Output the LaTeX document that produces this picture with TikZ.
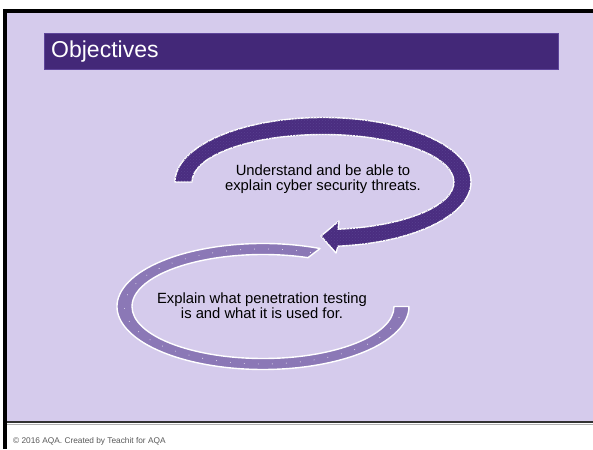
\documentclass[tikz,border=0pt]{standalone}
\usepackage{fontspec}
\setmainfont{Liberation Sans}
\usetikzlibrary{patterns}
\definecolor{panelbg}{HTML}{D5CBEC}
\definecolor{titlebar}{HTML}{432878}
\definecolor{titleedge}{HTML}{5E459A}
\definecolor{darkloop}{HTML}{4A2D80}
\definecolor{darkdots}{HTML}{58408F}
\definecolor{lightloop}{HTML}{8B78B6}
\tikzset{
  loopband/.style={draw=white, line width=1.4pt, line join=round},
  objtext/.style={align=center, font=\fontsize{14.8}{15}\selectfont, text=black, inner sep=0pt},
}

\begin{document}
\begin{tikzpicture}[x=1pt, y=1pt]
        \useasboundingbox (0,0) rectangle (593,449);
        \fill[white] (0,0) rectangle (593,449);

        % slide frame
        \fill[panelbg] (7,27) rectangle (593,436);
        \fill[black] (3,436) rectangle (593,440);
        \fill[black] (3,0) rectangle (7,440);
        \draw[gray!60, line width=1pt] (7,25) -- (593,25);
        \draw[black!80, line width=2pt] (7,27) -- (593,27);

        \node[draw=titleedge, fill=titlebar, minimum width=514pt, minimum height=36pt,
              anchor=south west, inner sep=0pt] (titlebar) at (44,380) {};
        \node[anchor=base west, text=white, font=\fontsize{23}{27}\selectfont, inner sep=0pt]
              (title) at (51,391) {Objectives};

        \coordinate (lowc) at (263,142.5);
        \coordinate (upc) at (323,267);

        % lower loop
        \path[fill=lightloop, loopband] (lowc) ++(67:146 and 63)
            arc[start angle=67, end angle=360, x radius=146, y radius=63]
            -- ([shift={(0:131 and 52)}]lowc)
            arc[start angle=360, end angle=69.9, x radius=131, y radius=52] -- cycle;
        \draw[white, line width=0.9pt, line cap=round, dash pattern=on 0pt off 14pt]
            (lowc) ++(70:138.5 and 57.5)
            arc[start angle=70, end angle=355, x radius=138.5, y radius=57.5];

        % upper loop with head
        \path[fill=darkloop, loopband, postaction={pattern=crosshatch dots, pattern color=darkdots}]
            (upc) ++(180:148 and 64.5)
            arc[start angle=180, end angle=-84.2, x radius=148, y radius=64.5]
            -- (336,196) -- (321,213) -- (339,228)
            -- ([shift={(-83.4:131 and 47.5)}]upc)
            arc[start angle=-83.4, end angle=180, x radius=131, y radius=47.5] -- cycle;

        \node[objtext] (upper) at (323,270) {Understand and be able to\\explain cyber security threats.};
        \node[objtext] (lower) at (262,143) {Explain what penetration testing\\is and what it is used for.};

        \node[anchor=west, text=black!65, font=\fontsize{8.3}{10}\selectfont, inner sep=0pt]
              (footer) at (13,8) {\textcopyright{} 2016 AQA. Created by Teachit for AQA};
\end{tikzpicture}
\end{document}
